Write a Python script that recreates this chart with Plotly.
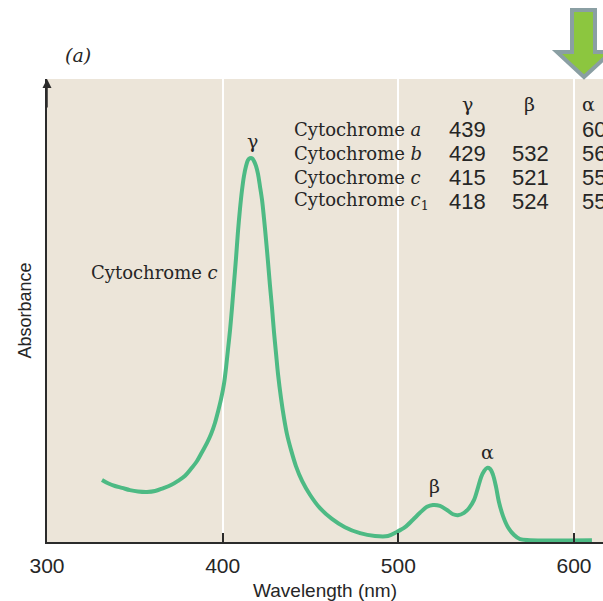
import plotly.graph_objects as go

# ---- data ----
wavelength_nm = [331.3, 334.7, 338.7, 342.7, 347.2, 351.8, 356.9, 361.5, 366.0, 370.6,
                 374.6, 378.6, 382.0, 385.4, 388.2, 391.1, 393.4, 395.6, 397.3, 399.1,
                 400.8, 401.9, 403.0, 404.2, 405.3, 406.4, 407.6, 408.7, 409.9, 411.0,
                 412.1, 413.3, 414.4, 415.6, 416.7, 417.8, 419.0, 420.1, 421.2, 422.4,
                 423.5, 424.7, 425.8, 426.9, 428.1, 429.2, 430.4, 431.5, 433.2, 434.9,
                 436.6, 438.9, 441.7, 445.2, 449.7, 455.4, 462.2, 469.6, 478.2, 486.7,
                 494.1, 499.3, 503.8, 508.3, 512.3, 516.3, 519.7, 523.7, 527.7, 531.1,
                 533.9, 537.4, 540.2, 543.1, 545.3, 547.1, 548.8, 550.5, 552.2, 553.9,
                 555.6, 557.3, 559.6, 562.4, 565.9, 569.3, 575.0, 610.2]
absorbance = [0.134, 0.127, 0.121, 0.117, 0.112, 0.109, 0.108, 0.110, 0.116, 0.123,
              0.132, 0.143, 0.158, 0.175, 0.194, 0.214, 0.233, 0.257, 0.281, 0.309,
              0.343, 0.376, 0.415, 0.458, 0.505, 0.557, 0.613, 0.670, 0.721, 0.760,
              0.790, 0.812, 0.825, 0.829, 0.829, 0.823, 0.812, 0.795, 0.769, 0.739,
              0.700, 0.652, 0.605, 0.555, 0.505, 0.454, 0.406, 0.363, 0.311, 0.268,
              0.233, 0.199, 0.164, 0.132, 0.102, 0.073, 0.050, 0.032, 0.019, 0.013,
              0.013, 0.022, 0.032, 0.048, 0.063, 0.076, 0.080, 0.078, 0.069, 0.060,
              0.058, 0.063, 0.073, 0.091, 0.117, 0.140, 0.153, 0.160, 0.158, 0.145,
              0.119, 0.086, 0.056, 0.032, 0.015, 0.006, 0.004, 0.004]

x_ticks = [300, 400, 500, 600]
x_tick_labels = ["300", "400", "500", "600"]

table_names = ["Cytochrome <i>a</i>", "Cytochrome <i>b</i>", "Cytochrome <i>c</i>",
               "Cytochrome <i>c</i><sub>1</sub>"]
table_headers = ["γ", "β", "α"]
gamma_peaks = ["439", "429", "415", "418"]
beta_peaks = ["", "532", "521", "524"]
alpha_peaks = ["600", "563", "550", "554"]

peak_labels = ["γ", "β", "α"]
peak_label_x = [416.7, 520.3, 550.5]
peak_label_y = [0.866, 0.121, 0.194]

# ---- styling ----
BG = "#ECE5D9"
GREEN = "#4DBA84"
AXIS = "#2b2b2b"
SERIF = "DejaVu Serif"
SANS = "Liberation Sans"
TEXT = "#262626"

fig = go.Figure()
fig.add_trace(go.Scatter(
    x=wavelength_nm, y=absorbance, mode="lines",
    line=dict(color=GREEN, width=4, shape="spline", smoothing=0.9),
    hoverinfo="skip", showlegend=False,
))

anns = []
for t, x, y in zip(peak_labels, peak_label_x, peak_label_y):
    anns.append(dict(x=x, y=y, xref="x", yref="y", text=t, showarrow=False,
                     font=dict(family=SERIF, size=19, color=TEXT)))
anns.append(dict(x=361.2, y=0.583, xref="x", yref="y", text="Cytochrome <i>c</i>",
                 showarrow=False, font=dict(family=SERIF, size=18, color=TEXT)))

row_y = [0.890, 0.840, 0.788, 0.736]
header_y = 0.946
header_x = [539.1, 574.4, 608.5]
col_x = [527.7, 563.6, 603.4]
for h, hx in zip(table_headers, header_x):
    anns.append(dict(x=hx, y=header_y, xref="x", yref="y", text=h, showarrow=False,
                     font=dict(family=SERIF, size=19, color=TEXT)))
for i, ry in enumerate(row_y):
    anns.append(dict(x=439.5, y=ry, xref="x", yref="y", text=table_names[i],
                     xanchor="left", showarrow=False,
                     font=dict(family=SERIF, size=18, color=TEXT)))
    for vals, cx in zip([gamma_peaks, beta_peaks, alpha_peaks], col_x):
        if vals[i]:
            anns.append(dict(x=cx, y=ry, xref="x", yref="y", text=vals[i],
                             xanchor="left", showarrow=False,
                             font=dict(family=SANS, size=22, color=TEXT)))

anns.append(dict(x=0.0558, y=1.052, xref="paper", yref="paper", text="<i>(a)</i>",
                 xanchor="center", yanchor="middle",
                 showarrow=False, font=dict(family=SERIF, size=19, color=TEXT)))
anns.append(dict(x=0, y=1, xref="paper", yref="paper", ax=0, ay=30, axref="pixel",
                 ayref="pixel", text="", showarrow=True, arrowhead=2, arrowsize=1.2,
                 arrowwidth=1.5, arrowcolor=AXIS, standoff=0))

def px(v):
    return (v - 47) / 556
def py(v):
    return (542 - v) / 463
arrow_path = ("M {a},{b} L {c},{b} L {c},{d} L {e},{d} L {f},{g} L {h},{d} L {a},{d} Z"
              .format(a=px(572), b=py(10), c=px(595), d=py(52), e=px(611),
                      f=px(584), g=py(77), h=px(557)))
shapes = [dict(type="path", path=arrow_path, xref="paper", yref="paper",
               fillcolor="#8CC63F", line=dict(color="#8A9FA3", width=4), layer="above")]

fig.update_layout(
    width=603, height=601,
    margin=dict(l=47, r=0, t=79, b=59),
    paper_bgcolor="white", plot_bgcolor=BG,
    annotations=anns, shapes=shapes,
    xaxis=dict(range=[300, 616.5], tickvals=x_ticks, ticktext=x_tick_labels,
               showgrid=True, gridcolor="white", gridwidth=2,
               ticks="inside", ticklen=9, tickwidth=1.5, tickcolor=AXIS,
               showline=True, linecolor=AXIS, linewidth=2, zeroline=False,
               tickfont=dict(family=SANS, size=21, color=TEXT),
               ticklabelstandoff=4,
               title=dict(text="Wavelength (nm)", standoff=10,
                          font=dict(family=SANS, size=19, color=TEXT))),
    yaxis=dict(range=[0, 1], showticklabels=False, showgrid=False, zeroline=False,
               showline=True, linecolor=AXIS, linewidth=1.5, ticks="",
               title=dict(text="Absorbance", standoff=9,
                          font=dict(family=SANS, size=18, color=TEXT))),
)

fig.write_html("out.html", config={"displayModeBar": False},
               post_script="document.body.style.margin='0';document.body.style.overflow='hidden';")
